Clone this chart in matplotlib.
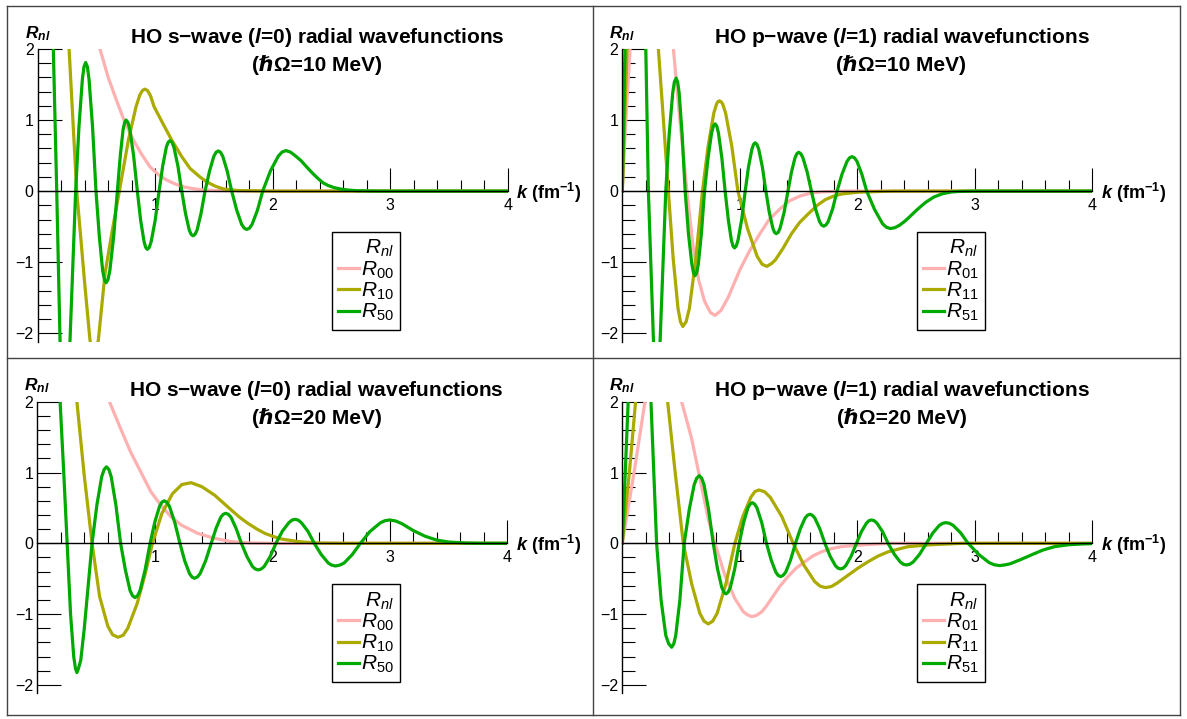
import matplotlib.pyplot as plt
from matplotlib.lines import Line2D
from matplotlib.ticker import MultipleLocator

plt.rcParams['font.family'] = ['Liberation Sans', 'DejaVu Sans']
plt.rcParams['mathtext.fontset'] = 'custom'
plt.rcParams['mathtext.rm'] = 'Liberation Sans'
plt.rcParams['mathtext.it'] = 'Liberation Sans:italic'
plt.rcParams['mathtext.bf'] = 'Liberation Sans:bold'
plt.rcParams['mathtext.bfit'] = 'Liberation Sans:bold:italic'

# ---- data: k in fm^-1, R_nl ----
# s-wave, hw = 10 MeV
k_s10_00 = [0.0, 0.30, 0.40, 0.45, 0.53, 0.60, 0.67, 0.734, 0.814, 0.88, 0.956, 1.03, 1.098, 1.17, 1.24, 1.32, 1.40, 1.50, 1.70, 2.0, 4.0]
r_s10_00 = [4.4, 3.4, 2.85, 2.5, 2.0, 1.6, 1.28, 1.0, 0.72, 0.53, 0.34, 0.23, 0.155, 0.10, 0.06, 0.035, 0.018, 0.008, 0.002, 0.0, 0.0]
k_s10_10 = [0.0, 0.20, 0.267, 0.332, 0.40, 0.445, 0.48, 0.516, 0.573, 0.635, 0.695, 0.772, 0.837, 0.87, 0.893, 0.913,
            0.935, 0.96, 0.99, 1.064, 1.14, 1.226, 1.296, 1.38, 1.438, 1.51, 1.58, 1.70, 2.0, 4.0]
r_s10_10 = [5.4, 3.3, 2.0, 0.0, -1.3, -2.1, -2.35, -2.1, -1.16, -0.55, 0.0, 0.72, 1.19, 1.357, 1.418, 1.435,
            1.415, 1.342, 1.19, 0.955, 0.72, 0.485, 0.32, 0.2, 0.13, 0.07, 0.03, 0.008, 0.0, 0.0]
k_s10_50 = [0.0, 0.08, 0.11, 0.133, 0.162, 0.19, 0.232, 0.275, 0.323, 0.351, 0.380, 0.394, 0.408, 0.423, 0.437, 0.467, 0.496,
            0.525, 0.553, 0.568, 0.582, 0.598, 0.614, 0.646, 0.678,
            0.703, 0.727, 0.740, 0.752, 0.768, 0.784, 0.816, 0.848,
            0.876, 0.905, 0.919, 0.933, 0.95, 0.966, 1.0, 1.033,
            1.064, 1.095, 1.11, 1.126, 1.143, 1.159, 1.193, 1.226,
            1.258, 1.29, 1.306, 1.322, 1.339, 1.356, 1.39, 1.424,
            1.462, 1.499, 1.518, 1.537, 1.556, 1.575, 1.613, 1.651,
            1.694, 1.736, 1.758, 1.779, 1.802, 1.824, 1.87, 1.915,
            1.981, 2.047, 2.08, 2.113, 2.15, 2.19, 2.24, 2.289, 2.34, 2.39, 2.43, 2.47, 2.52, 2.573, 2.64, 2.714, 2.9, 4.0]
r_s10_50 = [7.0, 5.0, 3.4, 2.0, 0.0, -2.1, -3.0, -2.1, 0.0, 0.9, 1.57, 1.75, 1.81, 1.75, 1.57, 0.9, 0.0,
            -0.65, -1.12, -1.246, -1.29, -1.246, -1.12, -0.65, 0.0,
            0.5, 0.87, 0.966, 1.0, 0.966, 0.87, 0.5, 0.0,
            -0.41, -0.71, -0.792, -0.82, -0.792, -0.71, -0.41, 0.0,
            0.355, 0.62, 0.686, 0.71, 0.686, 0.62, 0.355, 0.0,
            -0.315, -0.55, -0.609, -0.63, -0.609, -0.55, -0.315, 0.0,
            0.28, 0.49, 0.546, 0.565, 0.546, 0.49, 0.28, 0.0,
            -0.27, -0.47, -0.522, -0.54, -0.522, -0.47, -0.27, 0.0,
            0.285, 0.49, 0.55, 0.57, 0.55, 0.5, 0.43, 0.34, 0.25, 0.17, 0.115, 0.08, 0.05, 0.03, 0.015, 0.005, 0.0, 0.0]

# p-wave, hw = 10 MeV
k_p10_01 = [0.0, 0.03, 0.066, 0.15, 0.25, 0.35, 0.435, 0.49, 0.55, 0.60, 0.65, 0.70, 0.75, 0.79, 0.84, 0.90, 1.0, 1.08,
            1.171, 1.25, 1.342, 1.42, 1.512, 1.6, 1.7, 1.9, 4.0]
r_p10_01 = [0.0, 1.0, 2.0, 4.0, 4.6, 3.6, 2.0, 1.0, 0.0, -0.75, -1.25, -1.55, -1.71, -1.75, -1.68, -1.5, -1.11, -0.85,
            -0.6, -0.4, -0.25, -0.14, -0.07, -0.03, -0.01, 0.0, 0.0]
k_p10_11 = [0.0, 0.04, 0.1, 0.2, 0.26, 0.307, 0.35, 0.392,
            0.433, 0.474, 0.495, 0.515, 0.543, 0.571, 0.626, 0.682,
            0.73, 0.779, 0.803, 0.815, 0.827, 0.84, 0.853, 0.879, 0.932, 0.984,
            1.066, 1.148, 1.19, 1.23, 1.27, 1.302, 1.37, 1.44,
            1.51, 1.586, 1.66, 1.728, 1.8, 1.87, 2.01, 2.3, 4.0]
r_p10_11 = [0.0, 2.0, 4.5, 5.0, 3.5, 2.0, 1.0, 0.0,
            -0.95, -1.65, -1.84, -1.906, -1.84, -1.65, -0.95, 0.0,
            0.63, 1.1, 1.23, 1.26, 1.27, 1.258, 1.23, 1.1, 0.63, 0.0,
            -0.53, -0.92, -1.03, -1.06, -1.02, -0.97, -0.8, -0.6,
            -0.44, -0.315, -0.2, -0.12, -0.07, -0.04, -0.015, 0.0, 0.0]
k_p10_51 = [0.0, 0.023, 0.06, 0.11, 0.16, 0.2, 0.222, 0.265, 0.29, 0.322, 0.37, 0.399, 0.429, 0.443, 0.458, 0.471, 0.484, 0.509, 0.535,
            0.563, 0.592, 0.606, 0.62, 0.633, 0.647, 0.673, 0.70,
            0.73, 0.76, 0.775, 0.79, 0.804, 0.818, 0.847, 0.875,
            0.902, 0.928, 0.942, 0.955, 0.97, 0.985, 1.016, 1.046,
            1.074, 1.103, 1.117, 1.131, 1.146, 1.161, 1.192, 1.222,
            1.251, 1.281, 1.295, 1.31, 1.327, 1.343, 1.377, 1.41,
            1.44, 1.47, 1.486, 1.501, 1.519, 1.537, 1.573, 1.609,
            1.644, 1.679, 1.696, 1.714, 1.733, 1.752, 1.79, 1.828,
            1.87, 1.913, 1.934, 1.955, 1.976, 1.997, 2.038, 2.08,
            2.147, 2.215, 2.248, 2.282, 2.32, 2.36, 2.40, 2.44, 2.51, 2.58, 2.65, 2.72, 2.79, 2.86, 3.0, 4.0]
r_p10_51 = [0.0, 2.0, 4.5, 5.0, 4.0, 2.0, 0.0, -2.1, -2.8, -2.1, 0.0, 0.8, 1.38, 1.536, 1.59, 1.536, 1.38, 0.8, 0.0,
            -0.6, -1.03, -1.15, -1.19, -1.15, -1.03, -0.6, 0.0,
            0.47, 0.82, 0.914, 0.946, 0.914, 0.82, 0.47, 0.0,
            -0.4, -0.69, -0.773, -0.8, -0.773, -0.69, -0.4, 0.0,
            0.34, 0.59, 0.657, 0.68, 0.657, 0.59, 0.34, 0.0,
            -0.3, -0.52, -0.58, -0.6, -0.58, -0.52, -0.3, 0.0,
            0.27, 0.47, 0.527, 0.546, 0.527, 0.47, 0.27, 0.0,
            -0.25, -0.43, -0.477, -0.494, -0.477, -0.43, -0.25, 0.0,
            0.24, 0.42, 0.468, 0.485, 0.468, 0.42, 0.24, 0.0,
            -0.26, -0.46, -0.51, -0.527, -0.515, -0.48, -0.43, -0.37, -0.26, -0.16, -0.085, -0.04, -0.015, -0.005, 0.0, 0.0]

# s-wave, hw = 20 MeV
k_s20_00 = [0.0, 0.4, 0.5, 0.614, 0.709, 0.794, 0.88, 0.966, 1.051, 1.137, 1.223, 1.366, 1.509, 1.651, 1.794, 2.0, 4.0]
r_s20_00 = [3.9, 2.9, 2.5, 2.0, 1.62, 1.29, 1.01, 0.73, 0.54, 0.376, 0.26, 0.14, 0.07, 0.024, 0.005, 0.0, 0.0]
k_s20_10 = [0.0, 0.25, 0.337, 0.40, 0.466, 0.53, 0.60, 0.64, 0.686, 0.73,
            0.77, 0.85, 0.92, 0.98, 1.06, 1.15, 1.23, 1.309, 1.40, 1.509,
            1.58, 1.651, 1.72, 1.794, 1.865, 1.937, 2.01, 2.08, 2.223, 2.366, 2.6, 4.0]
r_s20_10 = [4.8, 3.0, 2.0, 0.95, 0.0, -0.75, -1.17, -1.29, -1.327, -1.30,
            -1.2, -0.85, -0.42, 0.0, 0.42, 0.7, 0.83, 0.856, 0.8, 0.68,
            0.575, 0.47, 0.37, 0.28, 0.205, 0.14, 0.095, 0.06, 0.024, 0.005, 0.0, 0.0]
k_s20_50 = [0.0, 0.1, 0.16, 0.194, 0.225, 0.254, 0.283, 0.31, 0.325, 0.337, 0.35, 0.37, 0.40, 0.433, 0.466,
            0.507, 0.548, 0.569, 0.589, 0.609, 0.629, 0.669, 0.709,
            0.75, 0.79, 0.811, 0.831, 0.853, 0.874, 0.917, 0.96,
            1.0, 1.04, 1.06, 1.08, 1.102, 1.125, 1.169, 1.214,
            1.255, 1.296, 1.317, 1.337, 1.361, 1.385, 1.432, 1.48,
            1.521, 1.562, 1.583, 1.603, 1.625, 1.648, 1.692, 1.737,
            1.785, 1.832, 1.856, 1.88, 1.905, 1.93, 1.981, 2.031,
            2.085, 2.14, 2.167, 2.194, 2.221, 2.248, 2.303, 2.357,
            2.417, 2.477, 2.507, 2.537, 2.573, 2.61, 2.68, 2.75,
            2.83, 2.92, 2.958, 3.0, 3.05, 3.1, 3.2, 3.3, 3.4, 3.5, 3.65, 3.8, 4.0]
r_s20_50 = [6.0, 4.5, 3.2, 2.0, 1.0, 0.0, -1.0, -1.6, -1.77, -1.826, -1.77, -1.65, -1.2, -0.6, 0.0,
            0.54, 0.94, 1.043, 1.08, 1.043, 0.94, 0.54, 0.0,
            -0.38, -0.67, -0.741, -0.767, -0.741, -0.67, -0.38, 0.0,
            0.3, 0.52, 0.58, 0.6, 0.58, 0.52, 0.3, 0.0,
            -0.25, -0.43, -0.477, -0.494, -0.477, -0.43, -0.25, 0.0,
            0.21, 0.37, 0.41, 0.424, 0.41, 0.37, 0.21, 0.0,
            -0.19, -0.33, -0.363, -0.376, -0.363, -0.33, -0.19, 0.0,
            0.17, 0.29, 0.327, 0.339, 0.327, 0.29, 0.17, 0.0,
            -0.16, -0.28, -0.309, -0.32, -0.309, -0.28, -0.16, 0.0,
            0.165, 0.29, 0.319, 0.33, 0.315, 0.28, 0.18, 0.1, 0.045, 0.018, 0.004, 0.0, 0.0]

# p-wave, hw = 20 MeV
k_p20_01 = [0.0, 0.1, 0.193, 0.28, 0.36, 0.44, 0.505, 0.59, 0.66, 0.731,
            0.788, 0.873, 0.958, 1.029, 1.065, 1.1, 1.14, 1.185, 1.225, 1.27, 1.34,
            1.41, 1.48, 1.553, 1.62, 1.695, 1.78, 1.865, 2.06, 2.3, 4.0]
r_p20_01 = [0.0, 1.0, 2.0, 2.9, 3.2, 2.7, 2.0, 1.48, 0.92, 0.35,
            0.0, -0.45, -0.78, -0.965, -1.01, -1.035, -1.02, -0.97, -0.89, -0.78, -0.61,
            -0.47, -0.35, -0.26, -0.18, -0.12, -0.075, -0.047, -0.02, 0.0, 0.0]
k_p20_11 = [0.0, 0.06, 0.113, 0.2, 0.28, 0.34, 0.386, 0.45, 0.519, 0.59,
            0.66, 0.696, 0.731, 0.769, 0.807, 0.882, 0.958, 1.026, 1.094, 1.128,
            1.162, 1.21, 1.259, 1.357, 1.454, 1.546, 1.637, 1.683, 1.729, 1.78,
            1.83, 1.922, 2.006, 2.092, 2.177, 2.262, 2.432, 2.63, 2.9, 4.0]
r_p20_11 = [0.0, 1.0, 2.0, 3.2, 3.2, 2.6, 2.0, 1.0, 0.0, -0.57,
            -0.99, -1.10, -1.139, -1.10, -0.99, -0.57, 0.0, 0.38, 0.65, 0.73,
            0.753, 0.73, 0.65, 0.38, 0.0, -0.31, -0.54, -0.605, -0.626, -0.61,
            -0.56, -0.45, -0.35, -0.26, -0.18, -0.12, -0.047, -0.02, 0.0, 0.0]
k_p20_51 = [0.0, 0.025, 0.05, 0.1, 0.16, 0.21, 0.244, 0.268, 0.292, 0.33, 0.37, 0.395, 0.42, 0.438, 0.455, 0.49, 0.527,
            0.57, 0.612, 0.634, 0.655, 0.675, 0.695, 0.734, 0.774,
            0.81, 0.846, 0.864, 0.882, 0.901, 0.92, 0.957, 0.995,
            1.032, 1.069, 1.088, 1.106, 1.126, 1.146, 1.187, 1.227,
            1.267, 1.307, 1.327, 1.347, 1.368, 1.39, 1.432, 1.474,
            1.515, 1.555, 1.576, 1.596, 1.617, 1.639, 1.681, 1.724,
            1.768, 1.813, 1.835, 1.857, 1.88, 1.902, 1.948, 1.993,
            2.035, 2.078, 2.099, 2.12, 2.144, 2.167, 2.215, 2.262,
            2.314, 2.366, 2.392, 2.418, 2.446, 2.475, 2.531, 2.588,
            2.643, 2.698, 2.726, 2.753, 2.785, 2.816, 2.88, 2.943,
            3.033, 3.122, 3.167, 3.212, 3.256, 3.30, 3.39, 3.48, 3.58, 3.68, 3.8, 3.906, 4.0]
r_p20_51 = [0.0, 1.0, 2.0, 3.5, 4.0, 3.2, 2.0, 1.0, 0.0, -0.8, -1.3, -1.42, -1.468, -1.42, -1.3, -0.8, 0.0,
            0.48, 0.83, 0.922, 0.955, 0.922, 0.83, 0.48, 0.0,
            -0.36, -0.62, -0.69, -0.715, -0.69, -0.62, -0.36, 0.0,
            0.29, 0.5, 0.554, 0.574, 0.554, 0.5, 0.29, 0.0,
            -0.235, -0.41, -0.454, -0.47, -0.454, -0.41, -0.235, 0.0,
            0.205, 0.355, 0.396, 0.41, 0.396, 0.355, 0.205, 0.0,
            -0.18, -0.315, -0.35, -0.362, -0.35, -0.315, -0.18, 0.0,
            0.165, 0.285, 0.319, 0.33, 0.319, 0.285, 0.165, 0.0,
            -0.153, -0.265, -0.296, -0.306, -0.296, -0.265, -0.153, 0.0,
            0.146, 0.253, 0.282, 0.292, 0.282, 0.253, 0.146, 0.0,
            -0.157, -0.273, -0.304, -0.315, -0.305, -0.29, -0.23, -0.165, -0.095, -0.047, -0.02, -0.01, -0.005]

colors = ['#ffb0b0', '#aaaa00', '#00aa00']

W, H = 1187, 719
fig = plt.figure(figsize=(W / 100, H / 100), dpi=100)


def px_rect(x0, top, w, h):
    return [x0 / W, 1 - (top + h) / H, w / W, h / H]


panels = [
    (px_rect(37.7, 49, 470, 292.7), 's', '0', '10',
     [(k_s10_00, r_s10_00), (k_s10_10, r_s10_10), (k_s10_50, r_s10_50)], ['00', '10', '50']),
    (px_rect(622.3, 49, 470, 292.7), 'p', '1', '10',
     [(k_p10_01, r_p10_01), (k_p10_11, r_p10_11), (k_p10_51, r_p10_51)], ['01', '11', '51']),
    (px_rect(37.3, 401.7, 470, 291.7), 's', '0', '20',
     [(k_s20_00, r_s20_00), (k_s20_10, r_s20_10), (k_s20_50, r_s20_50)], ['00', '10', '50']),
    (px_rect(622.3, 401.7, 470, 291.7), 'p', '1', '20',
     [(k_p20_01, r_p20_01), (k_p20_11, r_p20_11), (k_p20_51, r_p20_51)], ['01', '11', '51']),
]

for rect, wave, ell, hw, curves, labels in panels:
    ax = fig.add_axes(rect)
    handles = []
    for (k, r), c in zip(curves, colors):
        ln, = ax.plot(k, r, color=c, lw=2.3, solid_joinstyle='round')
        handles.append(ln)
    ax.set_xlim(0, 4)
    ax.set_ylim(-2.12, 2.0)

    # axes through the origin, Mathematica style
    ax.spines['top'].set_visible(False)
    ax.spines['right'].set_visible(False)
    ax.spines['bottom'].set_position(('data', 0))
    ax.spines['bottom'].set_linewidth(1.0)
    ax.spines['left'].set_linewidth(1.0)
    ax.patch.set_visible(False)

    ax.set_xticks([1, 2, 3, 4])
    ax.xaxis.set_minor_locator(MultipleLocator(0.2))
    ax.set_yticks([-2, -1, 0, 1, 2])
    ax.set_yticklabels(['\u22122', '\u22121', '0', '1', '2'])
    ax.yaxis.set_minor_locator(MultipleLocator(0.2))
    ax.tick_params(axis='x', which='major', direction='in', length=16.5, width=0.8, pad=5, labelsize=11.5)
    ax.tick_params(axis='x', which='minor', direction='in', length=8, width=0.8)
    ax.tick_params(axis='y', which='major', direction='in', length=17.5, width=0.8, pad=3, labelsize=11.5)
    ax.tick_params(axis='y', which='minor', direction='in', length=9.5, width=0.8)

    # axis labels
    ax.text(4.07, -0.02, r'$\mathbfit{k}$ (fm$^{\mathbf{-1}}$)', fontsize=13, fontweight='bold',
            ha='left', va='center', clip_on=False)
    ax.text(0.0, 1.038, r'$\mathbfit{R}_{\mathbfit{nl}}$', transform=ax.transAxes, fontsize=12.5,
            ha='center', va='baseline', clip_on=False)

    # title
    ax.text(0.594, 1.021, 'HO ' + wave + '\u2212wave ($\\mathbfit{l}$=' + ell + ') radial wavefunctions',
            transform=ax.transAxes, fontsize=15, fontweight='bold', ha='center', va='baseline')
    ax.text(0.594, 0.925, '(\u210f\u03a9=' + hw + ' MeV)', transform=ax.transAxes, fontsize=15,
            fontweight='bold', ha='center', va='baseline')

    leg = ax.legend(handles, ['$R_{' + s + '}$' for s in labels], title='$R_{nl}$',
                    loc='upper left', bbox_to_anchor=(0.626, 0.375), fontsize=15, title_fontsize=15,
                    handlelength=1.0, handletextpad=0.1, labelspacing=0.0, borderpad=0.3,
                    borderaxespad=0.0, fancybox=False, framealpha=1.0, edgecolor='black',
                    alignment='right')
    leg.get_frame().set_linewidth(1.0)
    for ln in leg.get_lines():
        ln.set_linewidth(2.3)

# table grid around the four panels
grid_kw = dict(color='#444444', lw=1.0, transform=fig.transFigure)
for x in (7, 592.5, 1180):
    fig.add_artist(Line2D([x / W, x / W], [1 - 6 / H, 1 - 715 / H], **grid_kw))
for y in (6, 358, 715):
    fig.add_artist(Line2D([7 / W, 1180 / W], [1 - y / H, 1 - y / H], **grid_kw))

fig.savefig('out.png', dpi=100)
